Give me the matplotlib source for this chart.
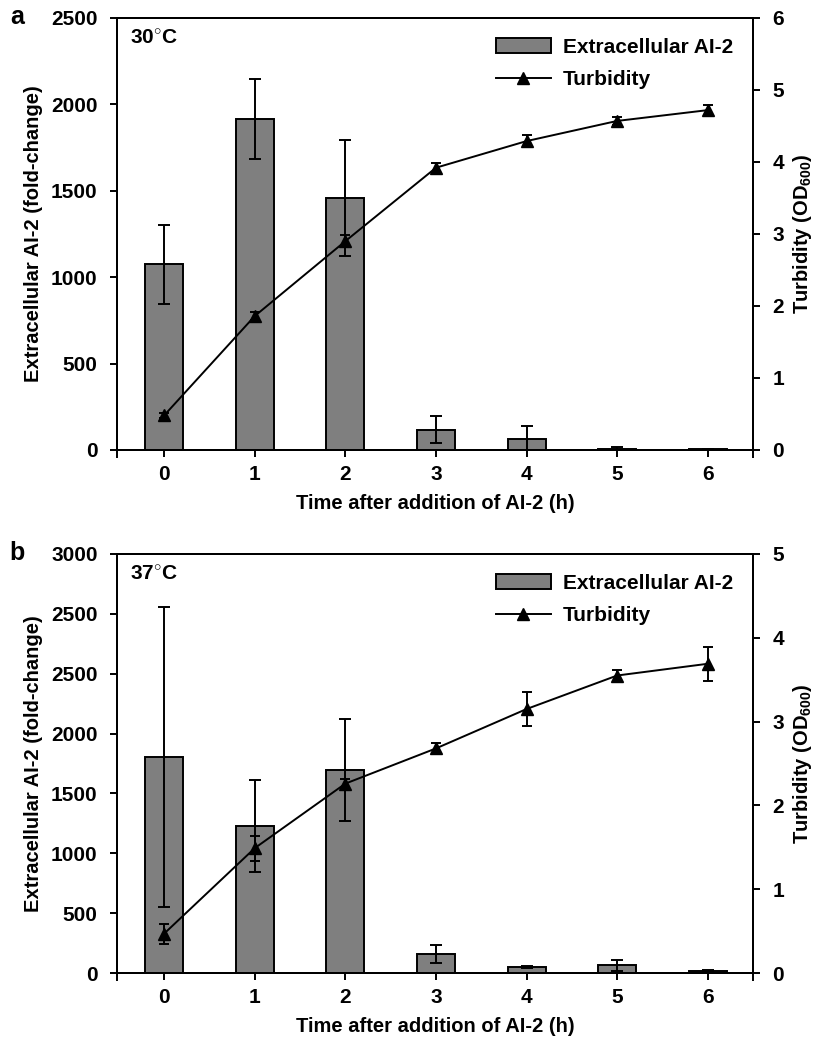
import matplotlib
matplotlib.use("Agg")
import matplotlib.pyplot as plt
import numpy as np

plt.rcParams['font.family'] = 'Liberation Sans'
plt.rcParams['font.weight'] = 'bold'
plt.rcParams['axes.labelweight'] = 'bold'
plt.rcParams['font.size'] = 15
plt.rcParams['mathtext.fontset'] = 'custom'
plt.rcParams['mathtext.rm'] = 'Liberation Sans:bold'
plt.rcParams['mathtext.bf'] = 'Liberation Sans:bold'
plt.rcParams['mathtext.default'] = 'bf'
plt.rcParams['axes.linewidth'] = 1.4

hours = [0, 1, 2, 3, 4, 5, 6]

# panel a, 30 C
ai2_a = [1075, 1914, 1456, 118, 62, 8, 5]
ai2_a_err = [228, 230, 335, 80, 75, 8, 3]
od_a = [0.48, 1.86, 2.90, 3.92, 4.29, 4.57, 4.72]
od_a_err = [0.04, 0.05, 0.08, 0.06, 0.08, 0.06, 0.07]

# panel b, 37 C
ai2_b = [1804, 1226, 1695, 157, 50, 63, 15]
ai2_b_err = [1250, 385, 425, 75, 8, 45, 10]
od_b = [0.47, 1.49, 2.26, 2.68, 3.15, 3.55, 3.69]
od_b_err = [0.12, 0.15, 0.06, 0.07, 0.20, 0.06, 0.20]

# left tick labels as printed in the original (panel b has a repeated 2500)
left_ticks_a = [0, 500, 1000, 1500, 2000, 2500]
left_labels_a = ['0', '500', '1000', '1500', '2000', '2500']
left_ticks_b = [0, 500, 1000, 1500, 2000, 2500, 3000, 3500]
left_labels_b = ['0', '500', '1000', '1500', '2000', '2500', '2500', '3000']

fig = plt.figure(figsize=(8.19, 10.38), dpi=100)


def panel(rect, ai2, ai2_err, od, od_err, lticks, llabels, rmax, temp, letter):
    ax = fig.add_axes(rect)
    ax.bar(hours, ai2, width=0.42, color='#7f7f7f', edgecolor='black',
           linewidth=1.4, label='Extracellular AI-2', zorder=2)
    ax.errorbar(hours, ai2, yerr=ai2_err, fmt='none', ecolor='black',
                elinewidth=1.4, capsize=4.3, capthick=1.4, zorder=3)
    ax.set_xlim(-0.52, 6.5)
    ax.set_ylim(lticks[0], lticks[-1])
    ax.set_yticks(lticks)
    ax.set_yticklabels(llabels)
    ax.set_xticks(hours)
    ax.set_xticks([-0.52, 6.5], minor=True)
    ax.tick_params(axis='x', which='major', direction='out', length=5, width=1.4, pad=6)
    ax.tick_params(axis='x', which='minor', direction='out', length=6, width=1.4)
    ax.tick_params(axis='y', direction='out', length=5, width=1.4, pad=9)
    ax.set_xlabel('Time after addition of AI-2 (h)', labelpad=7, fontsize=14.5)
    ax.set_ylabel('Extracellular AI-2 (fold-change)', labelpad=6, fontsize=14.5)

    ax2 = ax.twinx()
    ax2.errorbar(hours, od, yerr=od_err, fmt='none', ecolor='black',
                 elinewidth=1.4, capsize=3.6, capthick=1.4)
    ax2.plot(hours, od, color='black', marker='^', markersize=9,
             linewidth=1.4, label='Turbidity')
    ax2.set_ylim(0, rmax)
    ax2.set_yticks(range(0, rmax + 1))
    ax2.tick_params(axis='y', direction='out', length=5, width=1.4, pad=9)
    ax2.set_ylabel('Turbidity (OD$_{600}$)', labelpad=5, fontsize=14.5)

    h1, l1 = ax.get_legend_handles_labels()
    h2, l2 = ax2.get_legend_handles_labels()
    ax2.legend(h1 + h2, l1 + l2, loc='upper right', frameon=False,
               handlelength=2.6, handleheight=0.7, borderaxespad=0.55,
               labelspacing=0.65, handletextpad=0.6, fontsize=15)

    ax.text(0.02, 0.975, temp, transform=ax.transAxes, ha='left', va='top')
    fig.text(0.012, rect[1] + rect[3] + 0.001, letter, fontsize=18,
             ha='left', va='center')
    return ax


panel([0.1429, 0.5665, 0.7766, 0.4162], ai2_a, ai2_a_err, od_a, od_a_err,
      left_ticks_a, left_labels_a, 6, '30$^{\\circ}$C', 'a')
panel([0.1429, 0.0626, 0.7766, 0.4037], ai2_b, ai2_b_err, od_b, od_b_err,
      left_ticks_b, left_labels_b, 5, '37$^{\\circ}$C', 'b')

fig.savefig('out.png', dpi=100)
